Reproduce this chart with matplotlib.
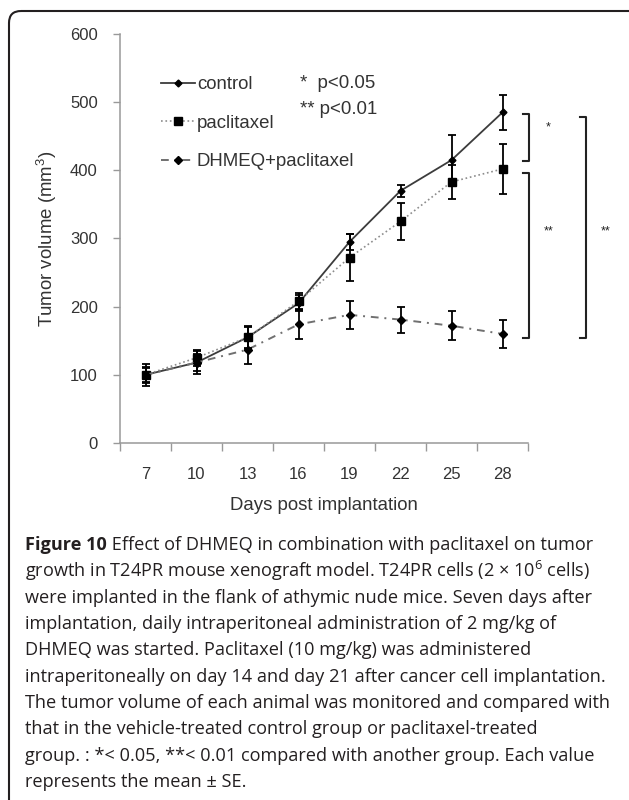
import numpy as np
import matplotlib
matplotlib.use('Agg')
import matplotlib.pyplot as plt
from matplotlib.patches import FancyBboxPatch

# tumor volume (mm3)
days = ['7', '10', '13', '16', '19', '22', '25', '28']
control = [100, 118, 155, 205, 295, 370, 415, 485]
control_err = [16, 12, 15, 12, 12, 9, 37, 26]
paclitaxel = [100, 125, 155, 208, 272, 325, 383, 402]
paclitaxel_err = [10, 12, 17, 12, 34, 27, 25, 36]
combo = [100, 118, 137, 174, 188, 181, 172, 160]
combo_err = [12, 17, 21, 21, 21, 19, 21, 21]

# significance brackets: x, top, bottom, label, label y
brackets = [(7.40, 483, 413, '*', 463),
            (7.40, 396, 154, '**', 310),
            (8.52, 478, 154, '**', 310)]

caption = [
    "growth in T24PR mouse xenograft model. T24PR cells (2 \u00d7 10$^6$ cells)",
    "were implanted in the flank of athymic nude mice. Seven days after",
    "implantation, daily intraperitoneal administration of 2 mg/kg of",
    "DHMEQ was started. Paclitaxel (10 mg/kg) was administered",
    "intraperitoneally on day 14 and day 21 after cancer cell implantation.",
    "The tumor volume of each animal was monitored and compared with",
    "that in the vehicle-treated control group or paclitaxel-treated",
    "group. : *< 0.05, **< 0.01 compared with another group. Each value",
    "represents the mean \u00b1 SE.",
]

plt.rcParams['font.family'] = ['Liberation Sans', 'DejaVu Sans']
plt.rcParams['mathtext.default'] = 'regular'

fig = plt.figure(figsize=(6.29, 8.0), dpi=100)

# page layer in pixel units
bg = fig.add_axes([0, 0, 1, 1], zorder=0)
bg.set_xlim(0, 629)
bg.set_ylim(800, 0)
bg.axis('off')
bg.add_patch(FancyBboxPatch((9, 11), 640, 830, boxstyle='round,pad=0,rounding_size=12',
                            fill=False, lw=1.5, ec='#231f20'))

ax = fig.add_axes([120 / 629, 357 / 800, 408 / 629, 409 / 800], zorder=1)
ax.set_facecolor('none')
x = np.arange(len(days))

ax.plot(x, control, '-', color='#3c3c3c', lw=1.3, marker='D', ms=3.5,
        mfc='black', mec='black', label='control')
ax.plot(x, paclitaxel, ':', color='#8c8c8c', lw=1.2, marker='s', ms=5.5,
        mfc='black', mec='black', label='paclitaxel')
ax.plot(x, combo, color='#707070', lw=1.4, ls=(0, (4, 3, 1, 3)), marker='D', ms=4.5,
        mfc='black', mec='black', label='DHMEQ+paclitaxel')
for vals, errs in [(control, control_err), (paclitaxel, paclitaxel_err), (combo, combo_err)]:
    ax.errorbar(x, vals, yerr=errs, fmt='none', ecolor='black', elinewidth=1.3,
                capsize=3, capthick=1.3)

for bx, top, bot, lab, ly in brackets:
    ax.plot([bx, bx + 0.12, bx + 0.12, bx], [top, top, bot, bot], color='#222222',
            lw=1.5, clip_on=False)
    ax.text(bx + 0.5, ly, lab, fontsize=9, ha='center', va='center', color='#222222')

ax.set_xlim(-0.5, len(days) - 0.5)
ax.set_ylim(0, 600)
ax.set_xticks(np.arange(-0.5, len(days), 1))
ax.set_xticklabels([])
ax.set_xticks(x, minor=True)
ax.set_xticklabels(days, minor=True)
ax.tick_params(axis='x', which='major', length=6, color='#999999', width=1)
ax.tick_params(axis='x', which='minor', length=0, pad=17, labelsize=12, labelcolor='#333333')
ax.set_yticks(range(0, 700, 100))
ax.tick_params(axis='y', length=5, color='#999999', width=1, pad=11,
               labelsize=12, labelcolor='#333333')
for s in ['top', 'right']:
    ax.spines[s].set_visible(False)
for s in ['left', 'bottom']:
    ax.spines[s].set_color('#999999')
    ax.spines[s].set_linewidth(1.1)

ax.set_xlabel('Days post implantation', fontsize=13.4, color='#333333', va='center')
ax.xaxis.set_label_coords(0.5, -0.152)
ax.set_ylabel('Tumor volume (mm$^3$)', fontsize=13.4, color='#333333', va='center')
ax.yaxis.set_label_coords(-0.18, 0.5)

leg = ax.legend(loc='upper left', bbox_to_anchor=(161 / 629, 1 - 76 / 800),
                bbox_transform=fig.transFigure, frameon=False, fontsize=13.4,
                handlelength=1.83, handletextpad=0.1, labelspacing=1.16,
                borderpad=0, borderaxespad=0, numpoints=1)
for t in leg.get_texts():
    t.set_color('#333333')

bg.text(300, 84, '*  p<0.05', fontsize=13.4, va='center', color='#333333')
bg.text(300, 110, '** p<0.01', fontsize=13.4, va='center', color='#333333')

# caption
cap_font = ['Open Sans', 'DejaVu Sans']
cap_size = 13.1
y0, dy = 545, 26.33
t1 = bg.text(25, y0, 'Figure 10', fontsize=cap_size, fontweight='bold', family=cap_font,
             va='center', color='#231f20')
bg.annotate(' Effect of DHMEQ in combination with paclitaxel on tumor', xy=(1, 0),
            xycoords=t1, va='bottom', ha='left', fontsize=cap_size, family=cap_font,
            color='#231f20')
for i, line in enumerate(caption):
    bg.text(25, y0 + (i + 1) * dy, line, fontsize=cap_size, family=cap_font,
            va='center', color='#231f20')

fig.savefig('out.png', dpi=100)
